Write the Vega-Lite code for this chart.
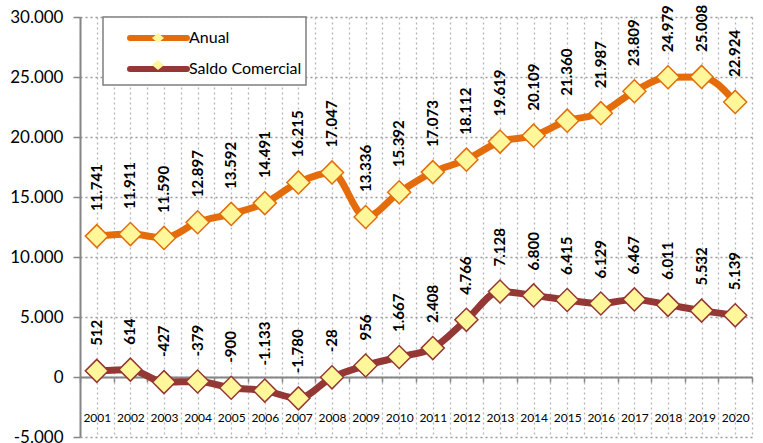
{
  "$schema": "https://vega.github.io/schema/vega-lite/v6.json",
  "autosize": "none",
  "width": 672,
  "height": 420,
  "padding": {"left": 80, "top": 17, "right": 11, "bottom": 6},
  "background": "white",
  "config": {
    "view": {"stroke": null},
    "font": "Lato",
    "locale": {"number": {"decimal": ",", "thousands": ".", "grouping": [3], "currency": ["R$", ""], "minus": "-"}}
  },
  "data": {"values": [
    {"ano": 2001, "serie": "Anual", "valor": 11741},
    {"ano": 2002, "serie": "Anual", "valor": 11911},
    {"ano": 2003, "serie": "Anual", "valor": 11590},
    {"ano": 2004, "serie": "Anual", "valor": 12897},
    {"ano": 2005, "serie": "Anual", "valor": 13592},
    {"ano": 2006, "serie": "Anual", "valor": 14491},
    {"ano": 2007, "serie": "Anual", "valor": 16215},
    {"ano": 2008, "serie": "Anual", "valor": 17047},
    {"ano": 2009, "serie": "Anual", "valor": 13336},
    {"ano": 2010, "serie": "Anual", "valor": 15392},
    {"ano": 2011, "serie": "Anual", "valor": 17073},
    {"ano": 2012, "serie": "Anual", "valor": 18112},
    {"ano": 2013, "serie": "Anual", "valor": 19619},
    {"ano": 2014, "serie": "Anual", "valor": 20109},
    {"ano": 2015, "serie": "Anual", "valor": 21360},
    {"ano": 2016, "serie": "Anual", "valor": 21987},
    {"ano": 2017, "serie": "Anual", "valor": 23809},
    {"ano": 2018, "serie": "Anual", "valor": 24979},
    {"ano": 2019, "serie": "Anual", "valor": 25008},
    {"ano": 2020, "serie": "Anual", "valor": 22924},
    {"ano": 2001, "serie": "Saldo Comercial", "valor": 512},
    {"ano": 2002, "serie": "Saldo Comercial", "valor": 614},
    {"ano": 2003, "serie": "Saldo Comercial", "valor": -427},
    {"ano": 2004, "serie": "Saldo Comercial", "valor": -379},
    {"ano": 2005, "serie": "Saldo Comercial", "valor": -900},
    {"ano": 2006, "serie": "Saldo Comercial", "valor": -1133},
    {"ano": 2007, "serie": "Saldo Comercial", "valor": -1780},
    {"ano": 2008, "serie": "Saldo Comercial", "valor": -28},
    {"ano": 2009, "serie": "Saldo Comercial", "valor": 956},
    {"ano": 2010, "serie": "Saldo Comercial", "valor": 1667},
    {"ano": 2011, "serie": "Saldo Comercial", "valor": 2408},
    {"ano": 2012, "serie": "Saldo Comercial", "valor": 4766},
    {"ano": 2013, "serie": "Saldo Comercial", "valor": 7128},
    {"ano": 2014, "serie": "Saldo Comercial", "valor": 6800},
    {"ano": 2015, "serie": "Saldo Comercial", "valor": 6415},
    {"ano": 2016, "serie": "Saldo Comercial", "valor": 6129},
    {"ano": 2017, "serie": "Saldo Comercial", "valor": 6467},
    {"ano": 2018, "serie": "Saldo Comercial", "valor": 6011},
    {"ano": 2019, "serie": "Saldo Comercial", "valor": 5532},
    {"ano": 2020, "serie": "Saldo Comercial", "valor": 5139}
  ]},
  "encoding": {
    "x": {
      "field": "ano", "type": "quantitative",
      "scale": {"domain": [2000.5, 2020.5], "nice": false, "zero": false},
      "axis": {
        "title": null,
        "offset": -60,
        "values": [2000.5, 2001, 2001.5, 2002, 2002.5, 2003, 2003.5, 2004, 2004.5, 2005, 2005.5, 2006, 2006.5, 2007, 2007.5, 2008, 2008.5, 2009, 2009.5, 2010, 2010.5, 2011, 2011.5, 2012, 2012.5, 2013, 2013.5, 2014, 2014.5, 2015, 2015.5, 2016, 2016.5, 2017, 2017.5, 2018, 2018.5, 2019, 2019.5, 2020, 2020.5],
        "labelExpr": "datum.value % 1 === 0 ? format(datum.value, 'd') : ''",
        "labelFont": "Lato", "labelFontSize": 12, "labelColor": "#000",
        "labelPadding": 30, "labelOverlap": false, "labelFlush": false,
        "domainColor": "#868686", "domainWidth": 2,
        "tickColor": "#868686", "tickWidth": 1.5, "tickSize": 5,
        "tickOpacity": {"condition": {"test": "datum.value % 1 === 0", "value": 0}, "value": 1},
        "grid": true, "gridDash": [2, 3], "gridColor": "#B5B5B5", "gridWidth": 1.3
      }
    },
    "y": {
      "field": "valor", "type": "quantitative",
      "scale": {"domain": [-5000, 30000], "nice": false, "zero": false},
      "axis": {
        "title": null,
        "values": [-5000, 0, 5000, 10000, 15000, 20000, 25000, 30000],
        "format": ",d",
        "labelFont": "Lato", "labelFontSize": 17, "labelColor": "#000", "labelPadding": 10,
        "domainColor": "#868686", "domainWidth": 2,
        "tickColor": "#868686", "tickWidth": 1.5, "tickSize": 7,
        "grid": true, "gridDash": [2, 3], "gridColor": "#9A9A9A", "gridWidth": 1.5
      }
    }
  },
  "layer": [
    {
      "mark": {"type": "line", "strokeWidth": 7, "interpolate": "monotone"},
      "encoding": {
        "stroke": {
          "field": "serie", "type": "nominal",
          "scale": {"domain": ["Anual", "Saldo Comercial"], "range": ["#E46C0A", "#953735"]},
          "legend": {
            "orient": "none", "legendX": 23, "legendY": 0, "title": null,
            "symbolType": "M0.43,0L4.5,0", "symbolSize": 784, "symbolStrokeWidth": 6,
            "padding": 4, "rowPadding": 2, "labelOffset": 48,
            "labelFont": "Lato", "labelFontSize": 16, "labelColor": "#000", "labelLimit": 0,
            "strokeColor": "#7F7F7F", "fillColor": "white", "cornerRadius": 0,
            "encode": {"legend": {"update": {"strokeWidth": {"value": 1.5}}}, "symbols": {"update": {"strokeCap": {"value": "round"}}}}
          }
        }
      }
    },
    {
      "mark": {"type": "point", "shape": "diamond", "filled": true, "size": 530, "strokeWidth": 1.5, "opacity": 1},
      "encoding": {
        "stroke": {"field": "serie", "type": "nominal"},
        "fill": {
          "field": "serie", "type": "nominal",
          "scale": {"range": ["#FFF799", "#FFF799"]},
          "legend": {
            "orient": "none", "legendX": 23, "legendY": 0, "title": null, "zindex": 3,
            "symbolType": "M2.0,0L2.43,-0.36L2.86,0L2.43,0.36Z", "symbolSize": 784, "symbolStrokeWidth": 6,
            "padding": 4, "rowPadding": 2, "labelOffset": 48,
            "labelExpr": "''",
            "labelFont": "Lato", "labelFontSize": 16, "labelOpacity": 0, "labelLimit": 0,
            "strokeColor": null, "fillColor": null,
            "encode": {"symbols": {"update": {"stroke": {"scale": "stroke", "field": "value"}, "fill": {"value": "#FFF799"}, "strokeWidth": {"value": 1.5}, "opacity": {"value": 1}}}}
          }
        }
      }
    },
    {
      "mark": {"type": "text", "angle": 270, "align": "left", "baseline": "middle", "dx": 25, "font": "Lato", "fontWeight": "bold", "fontSize": 15, "color": "#000"},
      "encoding": {
        "text": {"field": "valor", "type": "quantitative", "format": ",d"}
      }
    }
  ]
}
